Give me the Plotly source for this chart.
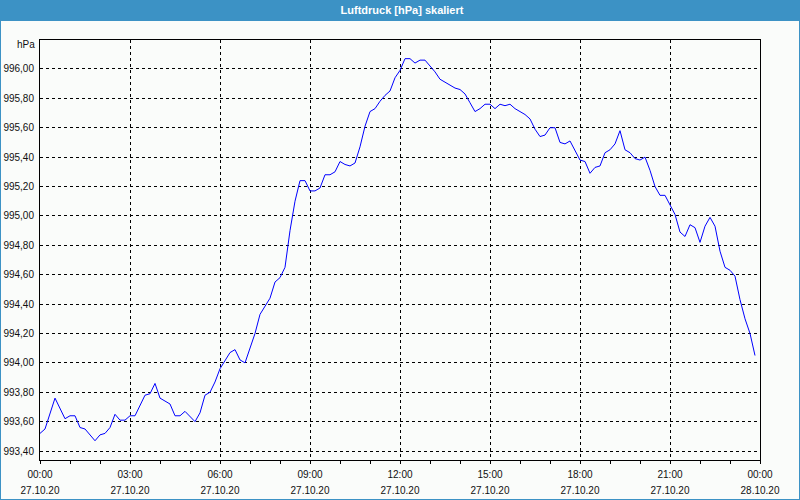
import plotly.graph_objects as go

DAY = "2020-10-27"
times = [
    "00:00", "00:10", "00:30", "00:50", "01:00", "01:10", "01:20", "01:30", "01:50",
    "02:00", "02:10", "02:20", "02:30", "02:40", "02:50", "03:00", "03:10", "03:30",
    "03:40", "03:50", "04:00", "04:20", "04:30", "04:40", "04:50", "05:10", "05:20",
    "05:30", "05:40", "05:50", "06:00", "06:10", "06:20", "06:30", "06:40", "06:50",
    "07:10", "07:20", "07:30", "07:40", "07:50", "08:00", "08:10", "08:20", "08:30",
    "08:40", "08:50", "09:00", "09:10", "09:20", "09:30", "09:40", "09:50", "10:00",
    "10:10", "10:20", "10:30", "10:40", "10:50", "11:00", "11:10", "11:20", "11:30",
    "11:40", "11:50", "12:00", "12:10", "12:20", "12:30", "12:40", "12:50", "13:00",
    "13:10", "13:20", "13:30", "13:40", "13:50", "14:00", "14:10", "14:20", "14:30",
    "14:40", "14:50", "15:00", "15:10", "15:20", "15:30", "15:40", "15:50", "16:00",
    "16:10", "16:20", "16:30", "16:40", "16:50", "17:00", "17:10", "17:20", "17:30",
    "17:40", "17:50", "18:00", "18:10", "18:20", "18:30", "18:40", "18:50", "19:00",
    "19:10", "19:20", "19:30", "19:40", "19:50", "20:00", "20:10", "20:20", "20:30",
    "20:40", "20:50", "21:00", "21:10", "21:20", "21:30", "21:40", "21:50", "22:00",
    "22:10", "22:20", "22:30", "22:40", "22:50", "23:00", "23:10", "23:20", "23:30",
    "23:40", "23:50",
]
pressure = [
    993.52, 993.55, 993.76, 993.62, 993.64, 993.64, 993.56, 993.55, 993.47,
    993.51, 993.52, 993.56, 993.65, 993.61, 993.61, 993.64, 993.64, 993.78,
    993.79, 993.86, 993.76, 993.72, 993.64, 993.64, 993.67, 993.60, 993.66,
    993.78, 993.80, 993.87, 993.96, 994.02, 994.07, 994.09, 994.02, 994.00,
    994.20, 994.33, 994.39, 994.44, 994.55, 994.58, 994.65, 994.90, 995.10,
    995.24, 995.24, 995.17, 995.17, 995.19, 995.28, 995.28, 995.30, 995.37,
    995.35, 995.34, 995.36, 995.47, 995.61, 995.71, 995.73, 995.78, 995.82,
    995.85, 995.94, 995.99, 996.07, 996.07, 996.04, 996.06, 996.06, 996.02,
    995.98, 995.93, 995.91, 995.89, 995.87, 995.86, 995.83, 995.77, 995.71,
    995.73, 995.76, 995.76, 995.73, 995.76, 995.75, 995.76, 995.73, 995.71,
    995.69, 995.66, 995.59, 995.54, 995.55, 995.60, 995.60, 995.50, 995.49,
    995.51, 995.45, 995.38, 995.37, 995.29, 995.33, 995.34, 995.43, 995.45,
    995.49, 995.58, 995.45, 995.43, 995.39, 995.38, 995.40, 995.31, 995.20,
    995.14, 995.14, 995.07, 995.01, 994.89, 994.86, 994.94, 994.92, 994.82,
    994.93, 994.99, 994.93, 994.76, 994.65, 994.63, 994.59, 994.43, 994.30,
    994.20, 994.05,
]
TITLE = "Luftdruck [hPa] skaliert"
UNIT = "hPa"
X_RANGE = ["2020-10-27 00:00", "2020-10-28 00:00"]
Y_RANGE = [993.339, 996.197]

x_vals = [f"{DAY} {t}" for t in times]

W, H = 800, 500
ML, MR, MT, MB = 40, 40, 40, 40
PW, PH = W - ML - MR, H - MT - MB
FONT = "Liberation Sans"
TXT = "#101010"
BG = "#fafcfa"
BAR = "#3c92c5"
HOUR = 3600000

fig = go.Figure()
fig.add_trace(go.Scatter(x=x_vals, y=pressure, mode="lines",
                         line=dict(color="#0000ff", width=1),
                         showlegend=False, hoverinfo="skip"))
fig.add_trace(go.Scatter(x=x_vals, y=pressure, mode="lines", xaxis="x2",
                         line=dict(color="rgba(0,0,0,0)", width=0),
                         showlegend=False, hoverinfo="skip"))

fig.update_layout(
    width=W, height=H,
    margin=dict(l=ML, r=MR, t=MT, b=MB, autoexpand=False),
    paper_bgcolor=BG, plot_bgcolor=BG,
    separators=",.",
    font=dict(family=FONT, size=10, color=TXT),
    xaxis=dict(
        type="date", range=X_RANGE, tick0=X_RANGE[0], dtick=3 * HOUR,
        tickformat="%H:%M", ticks="outside", ticklen=3, tickcolor="black",
        ticklabelstandoff=2, automargin=False,
        showgrid=True, gridcolor="black", gridwidth=1, griddash="3px,3px",
        showline=True, linecolor="black", linewidth=1, mirror=True,
        zeroline=False,
        minor=dict(dtick=HOUR, tick0=X_RANGE[0], ticks="outside", ticklen=3,
                   tickcolor="black", showgrid=False),
        tickfont=dict(family=FONT, size=10, color=TXT),
    ),
    xaxis2=dict(
        type="date", range=X_RANGE, tick0=X_RANGE[0], dtick=3 * HOUR,
        tickformat="%d.%m.%y", overlaying="x", anchor="y", side="bottom",
        ticks="", ticklabelstandoff=23, automargin=False,
        showgrid=False, showline=False, zeroline=False,
        tickfont=dict(family=FONT, size=10, color=TXT),
    ),
    yaxis=dict(
        range=Y_RANGE, tick0=993.4, dtick=0.2, tickformat=".2f",
        ticks="", ticklabelstandoff=3, automargin=False,
        showgrid=True, gridcolor="black", gridwidth=1, griddash="3px,3px",
        showline=True, linecolor="black", linewidth=1, mirror=True,
        zeroline=False,
        tickfont=dict(family=FONT, size=10, color=TXT),
    ),
    title=dict(text=f"<b>{TITLE}</b>", x=402 / W, xanchor="center",
               y=1 - 10.5 / H, yanchor="middle",
               font=dict(family=FONT, size=11, color="white")),
)

# title bar and window frame
fig.add_shape(type="rect", xref="paper", yref="paper",
              x0=-ML / PW, x1=1 + MR / PW, y0=1 + (MT - 21) / PH, y1=1 + MT / PH,
              fillcolor=BAR, line=dict(width=0), layer="below")
fig.add_shape(type="rect", xref="paper", yref="paper",
              x0=-ML / PW, x1=1 + MR / PW, y0=-MB / PH, y1=1 + MT / PH,
              fillcolor="rgba(0,0,0,0)", line=dict(color=BAR, width=2))

fig.add_annotation(text=UNIT, xref="paper", yref="paper",
                   x=-3 / PW, y=1 - 5 / PH, xanchor="right", yanchor="middle",
                   showarrow=False, font=dict(family=FONT, size=10, color=TXT))

fig.write_html("out.html")
